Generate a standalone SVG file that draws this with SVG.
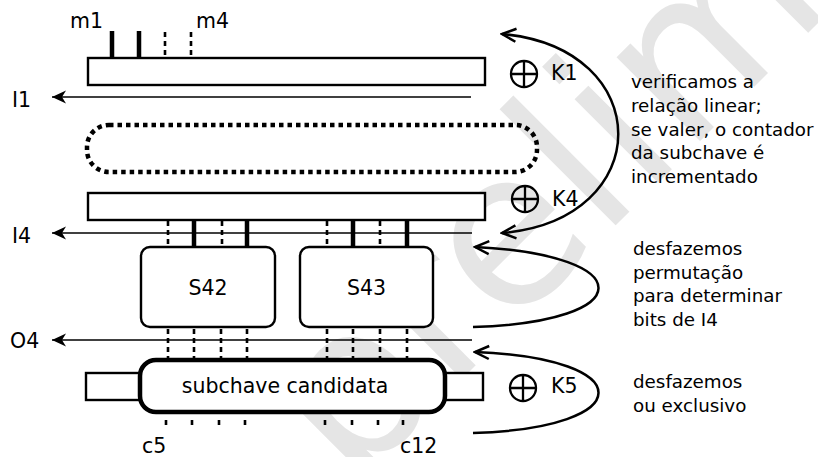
<svg xmlns="http://www.w3.org/2000/svg" width="818" height="457" viewBox="0 0 818 457">
<style>
text{font-family:"DejaVu Sans",Verdana,sans-serif;fill:#000}
.lbl{font-size:20.5px}
.cmt{font-size:18.3px}
.box{fill:#fff;stroke:#000;stroke-width:2.4}
.thick{stroke:#000;stroke-width:4.5;fill:none}
.dash{stroke:#000;stroke-width:2.6;stroke-dasharray:5,4;fill:none}
.hline{stroke:#000;stroke-width:1.3;fill:none;marker-end:url(#fa)}
.curve{stroke:#000;stroke-width:2.5;fill:none}
.xor{fill:none;stroke:#000;stroke-width:2.3}
.wm{font-family:"DejaVu Sans",sans-serif;font-size:216px;fill:#e5e5e5}
</style>
<defs>
<marker id="fa" markerUnits="userSpaceOnUse" viewBox="-15 -8 16 16" refX="0" refY="0" markerWidth="16" markerHeight="16" orient="auto">
<path d="M0,0 L-14,-6.5 L-10,0 L-14,6.5 Z" fill="#000"/>
</marker>
<marker id="oa" markerUnits="userSpaceOnUse" viewBox="-16 -9 18 18" refX="0" refY="0" markerWidth="18" markerHeight="18" orient="auto-start-reverse">
<path d="M-14,-6.5 L0,0 L-14,6.5" fill="none" stroke="#000" stroke-width="2.5"/>
</marker>
<g id="oplus"><circle cx="0" cy="0" r="13" class="xor"/><path d="M-13,0 H13 M0,-13 V13" class="xor"/></g>
</defs>
<rect width="818" height="457" fill="#fff"/>
<text class="wm" transform="translate(351,490) rotate(-45)">preliminar</text>

<g id="connectors">
<path class="thick" d="M112,31 V58 M139,31 V58"/>
<path class="dash" d="M165,32 V58 M191,32 V58"/>
<path class="hline" d="M471,97 H52"/>
<path class="hline" d="M472,233 H52"/>
<path class="hline" d="M472,340 H52"/>
<path class="dash" d="M168,221 V247 M222,221 V247 M327,221 V247 M380,221 V247"/>
<path class="thick" d="M194,221 V247 M247,221 V247 M353,221 V247 M407,221 V247"/>
<path class="dash" d="M168,329 V360 M194,329 V360 M221,329 V360 M247,329 V360 M327,329 V360 M353,329 V360 M380,329 V360 M407,329 V360"/>
<path class="dash" d="M166,420 V426 M192,420 V426 M219,420 V426 M245,420 V426 M325,420 V426 M352,420 V426 M378,420 V426 M403,420 V426"/>
<path class="curve" marker-start="url(#oa)" marker-end="url(#oa)" d="M502,34 C657,48 657,220 502,233"/>
<path class="curve" marker-start="url(#oa)" d="M475,247 C640,255 640,322 473,327"/>
<path class="curve" marker-start="url(#oa)" d="M475,352 C640,358 640,428 473,433"/>
</g>

<g id="round1">
<rect class="box" x="88" y="58" width="397" height="27"/>
<text class="lbl" x="70" y="28">m1</text>
<text class="lbl" x="196" y="28">m4</text>
</g>
<g id="k1"><use href="#oplus" x="524" y="74"/><text class="lbl" x="551" y="80">K1</text></g>
<g id="l1"><text class="lbl" x="12" y="107">I1</text></g>
<g id="rounds-dotted">
<rect x="87" y="125" width="450" height="47" rx="22" fill="none" stroke="#000" stroke-width="4.5" stroke-dasharray="4.5,4"/>
</g>
<g id="round4"><rect class="box" x="88" y="193" width="397" height="27"/></g>
<g id="k4"><use href="#oplus" x="525" y="199"/><text class="lbl" x="552" y="206">K4</text></g>
<g id="l4"><text class="lbl" x="12" y="243">I4</text></g>
<g id="s42"><rect class="box" x="141" y="247" width="134" height="80" rx="9"/><text class="lbl" x="208" y="295" text-anchor="middle">S42</text></g>
<g id="s43"><rect class="box" x="300" y="247" width="133" height="80" rx="9"/><text class="lbl" x="366.5" y="295" text-anchor="middle">S43</text></g>
<g id="o4"><text class="lbl" x="10" y="348">O4</text></g>
<g id="subkey">
<rect class="box" x="86" y="373" width="56" height="27"/>
<rect class="box" x="443" y="373" width="40" height="27"/>
<rect x="140" y="360" width="305" height="52" rx="16" fill="#fff" stroke="#000" stroke-width="4.5"/>
<text class="lbl" x="285" y="393" text-anchor="middle">subchave candidata</text>
<text class="lbl" x="142" y="453">c5</text>
<text class="lbl" x="400" y="453">c12</text>
</g>
<g id="k5"><use href="#oplus" x="523" y="388"/><text class="lbl" x="551" y="393">K5</text></g>
<g id="note1">
<text class="cmt" x="631" y="88">verificamos a</text>
<text class="cmt" x="631" y="111.8">relação linear;</text>
<text class="cmt" x="631" y="135.6">se valer, o contador</text>
<text class="cmt" x="631" y="159.4">da subchave é</text>
<text class="cmt" x="631" y="183.2">incrementado</text>
</g>
<g id="note2">
<text class="cmt" x="633" y="255">desfazemos</text>
<text class="cmt" x="633" y="278.6">permutação</text>
<text class="cmt" x="633" y="302.2">para determinar</text>
<text class="cmt" x="633" y="325.8">bits de I4</text>
</g>
<g id="note3">
<text class="cmt" x="633" y="388">desfazemos</text>
<text class="cmt" x="633" y="411.6">ou exclusivo</text>
</g>
</svg>
